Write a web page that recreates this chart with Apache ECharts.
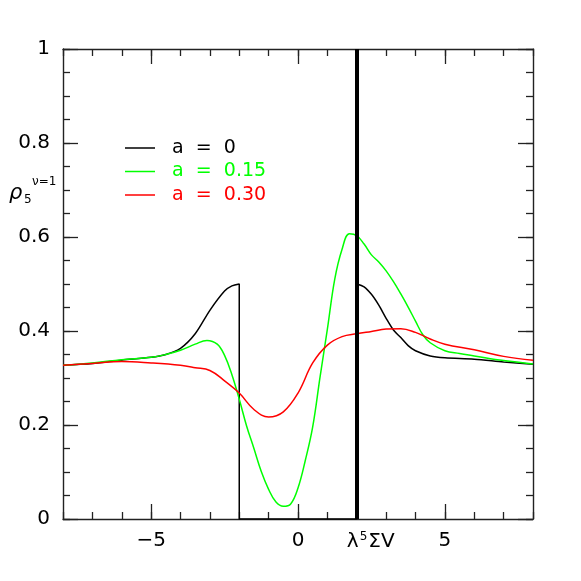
<!DOCTYPE html>
<html>
<head>
<meta charset="utf-8">
<script src="https://cdn.jsdelivr.net/npm/echarts@6/dist/echarts.min.js"></script>
<style>html,body{margin:0;padding:0;background:#fff;}#c{width:581px;height:581px;}</style>
</head>
<body>
<div id="c"></div>
<script>
// ---- data ----
const seriesNames = ['a  =  0', 'a  =  0.15', 'a  =  0.30'];
const seriesColors = ['#000000', '#00ff00', '#ff0000'];

const blackX = [-8, -7, -6, -5, -4.5, -4, -3.5, -3, -2.5, -2.25, -2, -2, 2, 2, 2.25, 2.5, 2.75, 3, 3.25, 3.5, 3.75, 4, 4.5, 5, 6, 7, 8];
const blackY = [0.327, 0.331, 0.338, 0.344, 0.350, 0.363, 0.394, 0.444, 0.485, 0.496, 0.5, 0, 0, 0.5, 0.494, 0.478, 0.455, 0.427, 0.402, 0.386, 0.369, 0.358, 0.347, 0.343, 0.340, 0.334, 0.329];

const greenX = [-8, -7, -6, -5, -4.5, -4, -3.5, -3.1, -2.75, -2.5, -2.25, -2, -1.75, -1.5, -1.25, -1, -0.75, -0.5, -0.25, 0, 0.25, 0.5, 0.75, 1, 1.25, 1.5, 1.75, 2, 2.25, 2.5, 2.75, 3, 3.25, 3.5, 3.75, 4, 4.25, 4.5, 5, 5.5, 6, 7, 8];
const greenY = [0.327, 0.332, 0.339, 0.344, 0.350, 0.359, 0.372, 0.380, 0.372, 0.348, 0.307, 0.255, 0.198, 0.150, 0.101, 0.063, 0.036, 0.027, 0.032, 0.066, 0.125, 0.196, 0.302, 0.404, 0.510, 0.574, 0.607, 0.603, 0.585, 0.562, 0.547, 0.528, 0.505, 0.479, 0.451, 0.421, 0.392, 0.375, 0.358, 0.352, 0.347, 0.337, 0.330];

const redX = [-8, -7, -6, -5, -4, -3.5, -3, -2.5, -2, -1.5, -1, -0.5, 0, 0.5, 1, 1.5, 2, 2.5, 3, 3.5, 4, 4.5, 5, 6, 7, 8];
const redY = [0.327, 0.331, 0.335, 0.332, 0.327, 0.322, 0.316, 0.294, 0.268, 0.233, 0.217, 0.228, 0.268, 0.332, 0.370, 0.388, 0.394, 0.399, 0.404, 0.405, 0.397, 0.383, 0.372, 0.360, 0.346, 0.338];

const markerX = 2;
const xTickLabels = [-5, 0, 5];
const yTickLabels = [0, 0.2, 0.4, 0.6, 0.8, 1];

// ---- build ----
const zip = (xs, ys) => xs.map((x, i) => [x, ys[i]]);
const font = 'DejaVu Sans';
const axisColor = '#222';

function xAx(pos, major, labels) {
  return {
    type: 'value', position: pos, min: -8, max: 8, interval: 1,
    axisLine: { show: !major, onZero: false, lineStyle: { color: axisColor, width: 1.4 } },
    axisTick: major ? { inside: true, length: 15, customValues: xTickLabels, lineStyle: { color: axisColor, width: 1.3 } }
                    : { inside: true, length: 7, lineStyle: { color: axisColor, width: 1.3 } },
    axisLabel: labels ? {
      customValues: xTickLabels.concat([markerX]),
      margin: 12, color: '#000', fontFamily: font, fontSize: 20,
      formatter: v => v === markerX ? '{m|λ}{s|5}{n|ΣV}' : (v < 0 ? '−' + Math.abs(v) : String(v)),
      rich: {
        m: { fontFamily: font, fontSize: 20, color: '#000', padding: [0, 0, 0, 28] },
        s: { fontFamily: font, fontSize: 12, color: '#000', padding: [0, 1, 9, 1] },
        n: { fontFamily: font, fontSize: 20, color: '#000' }
      }
    } : { show: false },
    splitLine: { show: false }
  };
}
function yAx(pos, major, labels) {
  return {
    type: 'value', position: pos, min: 0, max: 1, interval: 0.05,
    axisLine: { show: !major, onZero: false, lineStyle: { color: axisColor, width: 1.4 } },
    axisTick: major ? { inside: true, length: 15, customValues: yTickLabels, lineStyle: { color: axisColor, width: 1.3 } }
                    : { inside: true, length: 7, lineStyle: { color: axisColor, width: 1.3 } },
    axisLabel: labels ? {
      customValues: yTickLabels, margin: 13, color: '#000', fontFamily: font, fontSize: 20,
      formatter: v => String(Math.round(v * 100) / 100)
    } : { show: false },
    splitLine: { show: false }
  };
}

const lineSeries = (name, color, data, extra) => Object.assign({
  name, type: 'line', data, xAxisIndex: 0, yAxisIndex: 0,
  symbol: 'none', smooth: 0.4,
  lineStyle: { color, width: 1.5 }, itemStyle: { color }, z: 3
}, extra || {});

const chart = echarts.init(document.getElementById('c'), null, { renderer: 'canvas' });
chart.setOption({
  animation: false,
  backgroundColor: '#fff',
  grid: { left: 63, right: 48, top: 49, bottom: 62 },
  xAxis: [xAx('bottom', false, true), xAx('bottom', true, false), xAx('top', false, false), xAx('top', true, false)],
  yAxis: [yAx('left', false, true), yAx('left', true, false), yAx('right', false, false), yAx('right', true, false)],
  legend: {
    orient: 'vertical', left: 120, top: 133, itemWidth: 30, itemHeight: 1.5, itemGap: 3.5,
    icon: 'rect', selectedMode: false,
    textStyle: { fontFamily: font, fontSize: 19, lineHeight: 20 },
    data: seriesNames.map((n, i) => ({ name: n, textStyle: { color: seriesColors[i] } })),
    formatter: n => '  ' + n
  },
  graphic: [
    { type: 'text', left: 9, top: 183, style: { text: 'ρ', font: 'italic 21px "DejaVu Sans"', fill: '#000' } },
    { type: 'text', left: 24, top: 194, style: { text: '5', font: '12px "DejaVu Sans"', fill: '#000' } },
    { type: 'text', left: 32, top: 176, style: { text: 'ν=1', font: '12px "DejaVu Sans"', fill: '#000' } }
  ],
  series: [
    lineSeries(seriesNames[0], seriesColors[0], zip(blackX, blackY), {
      smooth: 0.3,
      markLine: {
        silent: true, symbol: 'none', label: { show: false },
        lineStyle: { color: '#000', width: 4, type: 'solid' },
        data: [[{ coord: [markerX, 0] }, { coord: [markerX, 1] }]]
      }
    }),
    lineSeries(seriesNames[1], seriesColors[1], zip(greenX, greenY)),
    lineSeries(seriesNames[2], seriesColors[2], zip(redX, redY))
  ]
});
</script>
</body>
</html>
